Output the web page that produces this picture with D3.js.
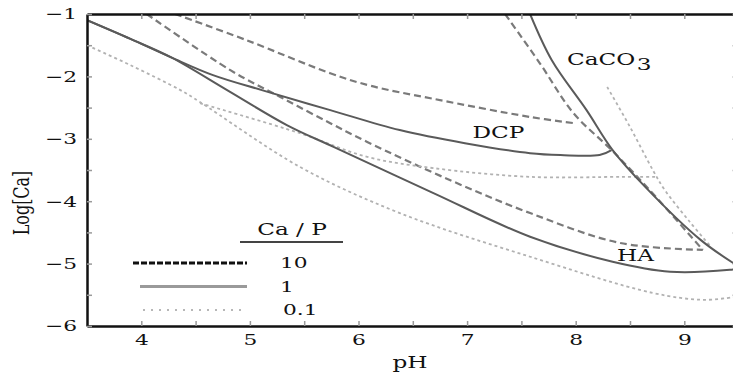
<!DOCTYPE html>
<html>
<head>
<meta charset="utf-8">
<script src="https://cdn.jsdelivr.net/npm/d3@7"></script>
<style>
  body { margin: 0; background: #fff; }
  svg text { font-family: "DejaVu Serif", serif; fill: #111; }
  .tick text { font-size: 15px; }
</style>
</head>
<body>
<div id="chart"></div>
<script>
// Solubility curves, [pH, log Ca]
const dcp10   = [[4.31,-1.0],[4.97,-1.42],[5.74,-1.95],[6.11,-2.15],[6.69,-2.36],[7.58,-2.65],[7.99,-2.75]];
const ha10    = [[4.05,-1.0],[4.82,-1.90],[5.28,-2.33],[5.74,-2.75],[6.08,-3.05],[6.84,-3.66],[7.58,-4.19],[8.41,-4.67],[9.17,-4.78]];
const caco310 = [[7.35,-1.0],[7.67,-1.79],[7.98,-2.59],[8.33,-3.18],[8.68,-3.82],[9.17,-4.78]];
const dcp1    = [[3.5,-1.10],[3.9,-1.40],[4.28,-1.70],[4.66,-1.98],[5.11,-2.22],[5.74,-2.54],[6.38,-2.86],[6.98,-3.07],[7.58,-3.23],[7.86,-3.26],[8.22,-3.26],[8.33,-3.18]];
const ha1     = [[3.5,-1.10],[3.9,-1.40],[4.28,-1.70],[4.79,-2.22],[5.34,-2.78],[5.77,-3.13],[6.69,-3.87],[7.58,-4.57],[8.34,-4.97],[8.87,-5.13],[9.42,-5.10],[9.5,-5.08]];
const caco31  = [[7.58,-1.0],[7.78,-1.74],[8.10,-2.54],[8.34,-3.18],[8.64,-3.77],[9.15,-4.62],[9.45,-4.99],[9.5,-5.04]];
const dcp01   = [[4.54,-2.43],[5.46,-2.91],[6.08,-3.29],[6.69,-3.47],[7.58,-3.61],[8.41,-3.61],[8.73,-3.61]];
const ha01    = [[3.5,-1.50],[3.9,-1.82],[4.36,-2.22],[4.54,-2.41],[5.46,-3.45],[6.38,-4.19],[7.58,-4.89],[8.71,-5.47],[9.17,-5.58],[9.45,-5.54],[9.5,-5.53]];
const caco301 = [[8.29,-2.17],[8.50,-2.81],[8.71,-3.50],[8.82,-3.82],[9.05,-4.33],[9.24,-4.72]];

const ratios = ["10", "1", "0.1"];
const xTicks = [4, 4.5, 5, 5.5, 6, 6.5, 7, 7.5, 8, 8.5, 9, 9.5];
const yTicks = [-1, -1.5, -2, -2.5, -3, -3.5, -4, -4.5, -5, -5.5, -6];

// Phase labels: [text, pH, log Ca] at the left end / baseline of each label
const phaseLabels = [["DCP", 7.05, -2.99], ["HA", 8.38, -4.96]];

const curves = [
  { ratio: "10",  pts: dcp10 }, { ratio: "10",  pts: ha10 }, { ratio: "10",  pts: caco310 },
  { ratio: "0.1", pts: dcp01 }, { ratio: "0.1", pts: ha01 }, { ratio: "0.1", pts: caco301 },
  { ratio: "1",   pts: dcp1 },  { ratio: "1",   pts: ha1 },  { ratio: "1",   pts: caco31 }
];

const style = {
  "10":  { stroke: "#7a7a7a", width: 2.2, dash: "7,4" },
  "1":   { stroke: "#5a5a5a", width: 2,   dash: null },
  "0.1": { stroke: "#b2b2b2", width: 1.8, dash: "3,3" }
};
const legendStyle = {
  "10":  { stroke: "#111", width: 3,   dash: "6,2" },
  "1":   { stroke: "#9a9a9a", width: 3, dash: null },
  "0.1": { stroke: "#a0a0a0", width: 1.6, dash: "2,6" }
};

const W = 733, H = 377;
const x = d3.scaleLinear().domain([3.5, 9.5]).range([87, 738.6]);
const y = d3.scaleLinear().domain([-6, -1]).range([326, 14]);
const SX = 1.45; // the source image is stretched sideways

const svg = d3.select("#chart").append("svg")
    .attr("width", W).attr("height", H);

svg.append("clipPath").attr("id", "plot")
  .append("rect")
    .attr("x", x(3.5)).attr("y", y(-1))
    .attr("width", x(9.5) - x(3.5)).attr("height", y(-6) - y(-1));

const line = d3.line()
    .x(d => x(d[0]))
    .y(d => y(d[1]))
    .curve(d3.curveCatmullRom.alpha(0.5));

svg.append("g").attr("clip-path", "url(#plot)")
  .selectAll("path")
  .data(curves)
  .enter().append("path")
    .attr("d", d => line(d.pts))
    .attr("fill", "none")
    .attr("stroke", d => style[d.ratio].stroke)
    .attr("stroke-width", d => style[d.ratio].width)
    .attr("stroke-dasharray", d => style[d.ratio].dash);

// Axes: ticks point inward, labels only on whole numbers
const fmtY = d => Number.isInteger(d) ? "\u2212" + Math.abs(d) : "";
const fmtX = d => Number.isInteger(d) ? d : "";

const gx = svg.append("g")
    .attr("transform", `translate(0,${y(-6)})`)
    .call(d3.axisBottom(x).tickValues(xTicks).tickSizeInner(-5).tickSizeOuter(0).tickFormat(fmtX));
gx.selectAll(".tick text")
    .attr("y", 0).attr("dy", null)
    .attr("transform", `translate(0,19) scale(${SX},1)`);

const gxTop = svg.append("g")
    .attr("transform", `translate(0,${y(-1)})`)
    .call(d3.axisTop(x).tickValues(xTicks).tickSizeInner(-5).tickSizeOuter(0).tickFormat(""));

const gy = svg.append("g")
    .attr("transform", `translate(${x(3.5)},0)`)
    .call(d3.axisLeft(y).tickValues(yTicks).tickSizeInner(-5).tickSizeOuter(0).tickFormat(fmtY));
gy.selectAll(".tick text")
    .attr("x", 0)
    .attr("transform", `translate(-10,0) scale(${SX},1)`);

const gyRight = svg.append("g")
    .attr("transform", `translate(${x(9.5)},0)`)
    .call(d3.axisRight(y).tickValues(yTicks).tickSizeInner(-6).tickSizeOuter(0).tickFormat(""));

[gx, gxTop, gy, gyRight].forEach(g => {
  g.select(".domain").attr("stroke", "#111").attr("stroke-width", 2.5);
  g.selectAll(".tick line").attr("stroke", "#9a9a9a").attr("stroke-width", 1.5);
});

// Axis titles
svg.append("text")
    .attr("transform", `translate(410,368) scale(${SX},1)`)
    .attr("text-anchor", "middle")
    .style("font-size", "16px")
    .text("pH");

svg.append("text")
    .attr("transform", "translate(29,203) rotate(-90) scale(1,1.45)")
    .attr("text-anchor", "middle")
    .style("font-size", "16px")
    .text("Log[Ca]");

// Phase labels
svg.selectAll(".phase")
  .data(phaseLabels)
  .enter().append("text")
    .attr("class", "phase")
    .attr("transform", d => `translate(${x(d[1])},${y(d[2])}) scale(${SX},1)`)
    .style("font-size", "16px")
    .text(d => d[0]);

const caco3 = svg.append("text")
    .attr("transform", `translate(${x(7.92)},${y(-1.82)}) scale(${SX},1)`)
    .style("font-size", "16px");
caco3.append("tspan").text("CaCO");
caco3.append("tspan").attr("dx", 1).attr("dy", 5).text("3");

// Legend
const legend = svg.append("g").attr("transform", "translate(133,0)");
legend.append("text")
    .attr("transform", `translate(159,235) scale(${SX},1)`)
    .attr("text-anchor", "middle")
    .style("font-size", "16px")
    .text("Ca / P");
legend.append("line")
    .attr("x1", 107).attr("x2", 210)
    .attr("y1", 242).attr("y2", 242)
    .attr("stroke", "#444").attr("stroke-width", 2);

const rows = legend.selectAll(".row")
  .data(ratios)
  .enter().append("g")
    .attr("class", "row")
    .attr("transform", (d, i) => `translate(0,${263 + i * 23.5})`);
rows.append("line")
    .attr("x1", (d, i) => [0, 7, 10][i]).attr("x2", 114)
    .attr("stroke", d => legendStyle[d].stroke)
    .attr("stroke-width", d => legendStyle[d].width)
    .attr("stroke-dasharray", d => legendStyle[d].dash);
rows.append("text")
    .attr("transform", (d, i) => `translate(${[147, 147, 150][i]},5) scale(${SX},1)`)
    .style("font-size", "15px")
    .text(d => d);
</script>
</body>
</html>
